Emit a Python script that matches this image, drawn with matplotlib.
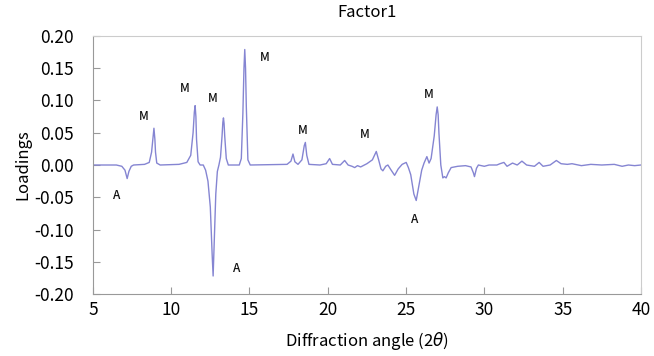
# Factor1 loadings plot, redrawn from the figure
import matplotlib
matplotlib.use('Agg')
from matplotlib import pyplot as plt
from matplotlib.ticker import FormatStrFormatter

plt.rcParams['font.family'] = ['Noto Sans CJK JP', 'DejaVu Sans']

# diffraction angle (2 theta) and loading values
angles = [5.0, 6.5, 6.85, 7.05, 7.19, 7.30, 7.45, 7.6, 8.3, 8.6, 8.75, 8.84, 8.90, 8.96, 9.0, 9.08, 9.3,
          10.5, 11.0, 11.25, 11.40, 11.48, 11.53, 11.58, 11.62, 11.72, 11.85, 12.05, 12.2, 12.35, 12.5,
          12.62, 12.68, 12.75, 12.85, 12.95, 13.05, 13.15, 13.25, 13.30, 13.34, 13.38, 13.42, 13.52, 13.65,
          14.35, 14.48, 14.58, 14.65, 14.70, 14.75, 14.80, 14.90, 15.05, 17.4, 17.65, 17.78, 17.9, 18.1,
          18.35, 18.5, 18.57, 18.66, 18.8, 19.5, 19.9, 20.12, 20.3, 20.8, 21.08, 21.3, 21.55,
          21.72, 21.9, 22.1, 22.5, 22.85, 23.10, 23.25, 23.4, 23.52, 23.7, 23.84, 24.05, 24.27,
          24.5, 24.75, 25.01, 25.15, 25.3, 25.5, 25.65, 25.8, 26.0, 26.15, 26.33, 26.47, 26.6,
          26.8, 26.92, 26.99, 27.05, 27.1, 27.22, 27.35, 27.45, 27.56, 27.7, 27.88, 28.3, 28.8, 29.15, 29.3,
          29.37, 29.5, 29.62, 30.0, 30.3, 30.8, 31.0, 31.25, 31.45, 31.8, 32.1, 32.4, 32.7,
          33.2, 33.5, 33.75, 34.2, 34.6, 34.9, 35.3, 35.6, 36.2, 36.8, 37.5, 38.3, 38.8, 39.2,
          39.6, 40.0]
loadings = [0.000, 0.000, -0.002, -0.008, -0.021, -0.010, -0.002, 0.000, 0.001, 0.004, 0.020, 0.042,
            0.057, 0.040, 0.020, 0.003, 0.000, 0.001, 0.004, 0.015, 0.050, 0.082, 0.092, 0.075, 0.040,
            0.005, 0.000, 0.000, -0.008, -0.025, -0.065, -0.140, -0.172, -0.120, -0.045, -0.010, 0.000,
            0.012, 0.045, 0.066, 0.073, 0.064, 0.045, 0.010, 0.000, 0.000, 0.010, 0.080, 0.150, 0.179,
            0.150, 0.090, 0.008, 0.000,
            0.001, 0.006, 0.017, 0.005, 0.001, 0.008, 0.030, 0.035, 0.015, 0.001, 0.000, 0.002,
            0.010, 0.001, 0.000, 0.007, 0.000, -0.002, -0.004, -0.001, -0.003, 0.002, 0.008,
            0.021, 0.008, -0.006, -0.009, -0.002, 0.000, -0.008, -0.016, -0.006, 0.001, 0.004,
            -0.004, -0.015, -0.045, -0.055, -0.035, -0.008, 0.003, 0.013, 0.003, 0.010, 0.045,
            0.078, 0.090, 0.078, 0.050, 0.000, -0.020, -0.018, -0.020, -0.012, -0.004, -0.002, -0.001,
            -0.003, -0.012, -0.018, -0.005, 0.000, -0.002, 0.000, 0.000, 0.002, 0.004, -0.002, 0.003,
            0.000, 0.006, 0.000, -0.002, 0.004, -0.002, 0.000, 0.007, 0.002, 0.001, 0.002,
            -0.001, 0.001, 0.000, 0.001, -0.002, 0.000, -0.001, 0.000]

# peak annotations (M / A)
label_text = ['A', 'M', 'M', 'M', 'M', 'A', 'M', 'M', 'A', 'M']
label_x = [6.54, 8.28, 10.87, 12.68, 15.98, 14.17, 18.42, 22.35, 25.54, 26.46]
label_y = [-0.047, 0.0745, 0.119, 0.103, 0.166, -0.160, 0.054, 0.047, -0.085, 0.110]

fig = plt.figure(figsize=(6.54, 3.56), dpi=100)
ax = fig.add_axes([0.142, 0.174, 0.838, 0.725])

ax.plot(angles, loadings, color='#8585d2', linewidth=1.0)

for t, x, y in zip(label_text, label_x, label_y):
    ax.text(x, y, t, fontsize=8.5, fontweight='medium', ha='center', va='center', color='#111111')

ax.set_xlim(5, 40)
ax.set_ylim(-0.20, 0.20)
ax.set_xticks(range(5, 41, 5))
ax.set_yticks([-0.20, -0.15, -0.10, -0.05, 0.00, 0.05, 0.10, 0.15, 0.20])
ax.yaxis.set_major_formatter(FormatStrFormatter('%.2f'))
ax.tick_params(direction='in', length=5, color='#999999', labelsize=12.5, pad=5)
ax.tick_params(axis='y', pad=14)

for side in ['left', 'bottom']:
    ax.spines[side].set_color('#999999')
for side in ['top', 'right']:
    ax.spines[side].set_color('#cccccc')

ax.set_title('Factor1', fontsize=12, pad=14)
ax.set_xlabel('Diffraction angle (2$\\theta$)', fontsize=12, labelpad=8)
ax.set_ylabel('Loadings', fontsize=12, labelpad=2)

fig.savefig('out.png', dpi=100)
